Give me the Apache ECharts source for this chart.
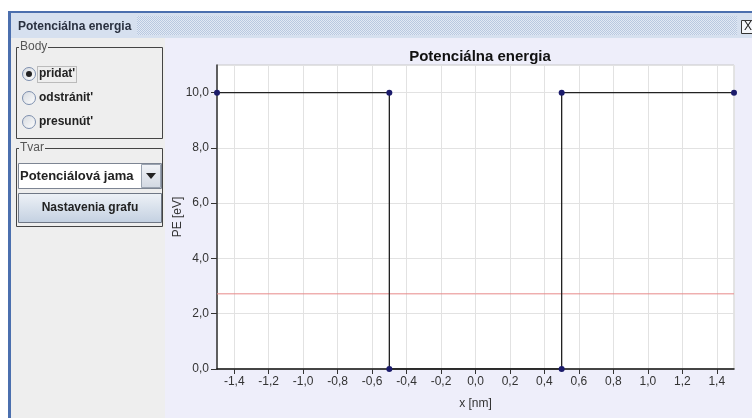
<!DOCTYPE html>
<html><head><meta charset="utf-8">
<script src="https://cdn.jsdelivr.net/npm/echarts@6/dist/echarts.min.js"></script>
<style>html,body{margin:0;padding:0;background:#fff}#c{width:752px;height:418px}</style>
</head><body><div id="c"></div><script>
// ---- data ----
const chartTitle = 'Potenciálna energia';
const xName = 'x [nm]';
const yName = 'PE [eV]';
const xRange = [-1.5, 1.5];
const yRange = [0, 11];
const pointX = [-1.5, -0.5, -0.5, 0.5, 0.5, 1.5];
const pointPE = [10, 10, 0, 0, 10, 10];
const energyX = [-1.5, 1.5];
const energyE = [2.72, 2.72];
const radioLabels = ['pridat\'', 'odstránit\'', 'presunút\''];
const selectedRadio = 0;
const comboText = 'Potenciálová jama';
const buttonText = 'Nastavenia grafu';
const windowTitle = 'Potenciálna energia';

const chart = echarts.init(document.getElementById('c'), null, {renderer: 'canvas'});
const fmt = v => v.toFixed(1).replace('.', ',');
const uiFont = '"Liberation Sans", Arial, sans-serif';

// checker pattern for the title bar
const pc = document.createElement('canvas');
pc.width = 2; pc.height = 2;
const pctx = pc.getContext('2d');
pctx.fillStyle = '#e2e9f4'; pctx.fillRect(0,0,2,2);
pctx.fillStyle = '#b8c8e0'; pctx.fillRect(0,0,1,1); pctx.fillRect(1,1,1,1);

const g = [];
// window frame
g.push({type:'rect', z:-20, shape:{x:8,y:11,width:760,height:420}, style:{fill:'#4b6fae'}});
g.push({type:'rect', z:-19, shape:{x:11,y:13,width:760,height:420}, style:{fill:'#eeeeee'}});
// title bar
g.push({type:'rect', z:-18, shape:{x:11,y:13,width:760,height:25}, style:{fill:'#d6e0ef'}});
g.push({type:'rect', z:-17, shape:{x:137,y:16,width:600,height:19}, style:{fill:{image:pc, repeat:'repeat'}}});
g.push({type:'text', z:5, style:{text:windowTitle, x:18, y:27, fill:'#2a3140', font:'bold 12px '+uiFont, verticalAlign:'middle'}});
g.push({type:'rect', z:5, shape:{x:741.5,y:20.5,width:13,height:13}, style:{fill:'#f4f6fa', stroke:'#333', lineWidth:1}});
g.push({type:'text', z:6, style:{text:'X', x:748, y:27, fill:'#222', font:'12px '+uiFont, align:'center', verticalAlign:'middle'}});
// chart panel background
g.push({type:'rect', z:-16, shape:{x:165,y:38,width:600,height:400}, style:{fill:'#eeeefa'}});
// Body group
g.push({type:'rect', z:1, shape:{x:16.5,y:47.5,width:146,height:91}, style:{fill:'none', stroke:'#444', lineWidth:1}});
g.push({type:'rect', z:2, shape:{x:19,y:41,width:29,height:12}, style:{fill:'#eeeeee'}});
g.push({type:'text', z:3, style:{text:'Body', x:20, y:47, fill:'#555', font:'12px '+uiFont, verticalAlign:'middle'}});
radioLabels.forEach((t, i) => {
  const cy = 74 + i * 24;
  g.push({type:'circle', z:3, shape:{cx:29, cy:cy, r:6.5}, style:{fill:{type:'linear',x:0,y:0,x2:1,y2:1,colorStops:[{offset:0,color:'#d4d8de'},{offset:1,color:'#ffffff'}]}, stroke:'#7d8fae', lineWidth:1}});
  if (i === selectedRadio) g.push({type:'circle', z:4, shape:{cx:29, cy:cy, r:3}, style:{fill:'#222'}});
  g.push({type:'text', z:4, style:{text:t, x:39, y:cy, fill:'#222', font:'bold 12px '+uiFont, verticalAlign:'middle'}});
});
g.push({type:'rect', z:4, shape:{x:37.5,y:66.5,width:39,height:16}, style:{fill:'none', stroke:'#888', lineWidth:1, lineDash:[1,1]}});
// Tvar group
g.push({type:'rect', z:1, shape:{x:16.5,y:148.5,width:146,height:78}, style:{fill:'none', stroke:'#444', lineWidth:1}});
g.push({type:'rect', z:2, shape:{x:19,y:142,width:26,height:12}, style:{fill:'#eeeeee'}});
g.push({type:'text', z:3, style:{text:'Tvar', x:20, y:148, fill:'#555', font:'12px '+uiFont, verticalAlign:'middle'}});
// combo
g.push({type:'rect', z:3, shape:{x:18.5,y:163.5,width:143,height:25}, style:{fill:'#ffffff', stroke:'#7d8593', lineWidth:1}});
g.push({type:'rect', z:4, shape:{x:141.5,y:164.5,width:19,height:23}, style:{fill:{type:'linear',x:0,y:0,x2:0,y2:1,colorStops:[{offset:0,color:'#f2f4f8'},{offset:1,color:'#d2d8e2'}]}, stroke:'#9aa3b0', lineWidth:1}});
g.push({type:'polygon', z:5, shape:{points:[[146,173],[156,173],[151,179]]}, style:{fill:'#222'}});
g.push({type:'text', z:4, style:{text:comboText, x:20, y:176, fill:'#222', font:'bold 13px '+uiFont, verticalAlign:'middle'}});
// button
g.push({type:'rect', z:3, shape:{x:18.5,y:193.5,width:143,height:29}, style:{fill:{type:'linear',x:0,y:0,x2:0,y2:1,colorStops:[{offset:0,color:'#eef2f7'},{offset:1,color:'#c3d0e1'}]}, stroke:'#6f7785', lineWidth:1}});
g.push({type:'text', z:4, style:{text:buttonText, x:90, y:208, fill:'#222', font:'bold 12px '+uiFont, align:'center', verticalAlign:'middle'}});

chart.setOption({
  animation: false,
  backgroundColor: '#ffffff',
  graphic: {elements: g},
  title: {
    text: chartTitle, left: 475, top: 44, textAlign: 'center',
    textStyle: {fontFamily: uiFont, fontSize: 15, fontWeight: 'bold', color: '#111'}
  },
  grid: {left: 217, top: 65, right: 18, bottom: 49, show: true, backgroundColor: '#ffffff', borderColor: '#c8c8c8', borderWidth: 1},
  xAxis: {
    type: 'value', min: xRange[0], max: xRange[1], splitNumber: 15,
    name: xName, nameLocation: 'middle', nameGap: 29,
    nameTextStyle: {fontFamily: uiFont, fontSize: 12, color: '#333'},
    axisLine: {onZero: false, lineStyle: {color: '#111', width: 1.5}},
    axisTick: {show: true, length: 5, lineStyle: {color: '#333'}},
    axisLabel: {formatter: fmt, showMinLabel: false, showMaxLabel: false, fontFamily: uiFont, fontSize: 12, color: '#333', margin: 7},
    splitLine: {show: true, lineStyle: {color: '#e2e2e2', width: 1}}
  },
  yAxis: {
    type: 'value', min: yRange[0], max: yRange[1], interval: 2,
    name: yName, nameLocation: 'middle', nameGap: 33, nameRotate: 90, nameMoveOverlap: false,
    nameTextStyle: {fontFamily: uiFont, fontSize: 12, color: '#333'},
    axisLine: {show: true, onZero: false, lineStyle: {color: '#333', width: 1.5}},
    axisTick: {show: true, length: 6, lineStyle: {color: '#333'}},
    axisLabel: {formatter: fmt, showMaxLabel: false, fontFamily: uiFont, fontSize: 12, color: '#333', margin: 8},
    splitLine: {show: true, lineStyle: {color: '#e2e2e2', width: 1}}
  },
  series: [
    {
      type: 'line', data: energyX.map((x, i) => [x, energyE[i]]),
      showSymbol: false, lineStyle: {color: '#e88a8a', width: 1}, silent: true
    },
    {
      type: 'line', data: pointX.map((x, i) => [x, pointPE[i]]),
      symbol: 'circle', symbolSize: 6, showSymbol: true,
      lineStyle: {color: '#222222', width: 1.3},
      itemStyle: {color: '#1b1b6b'}
    }
  ]
});
</script></body></html>
